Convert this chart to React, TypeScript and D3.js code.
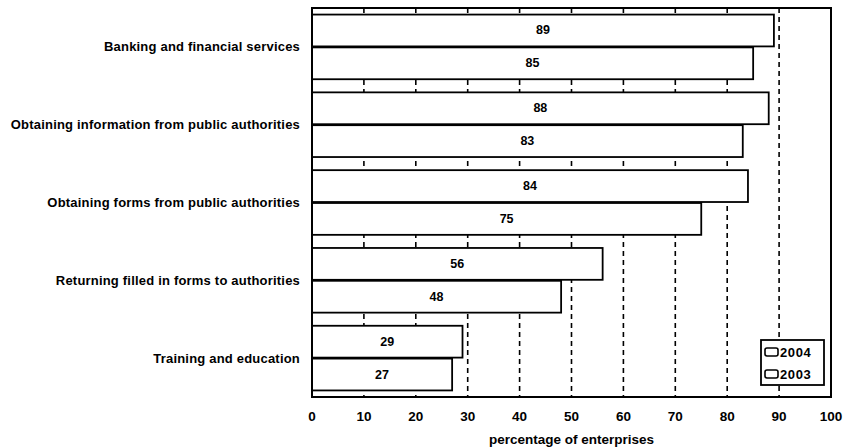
import React from "react";
import * as d3 from "d3";

const categories = [
  "Banking and financial services",
  "Obtaining information from public authorities",
  "Obtaining forms from public authorities",
  "Returning filled in forms to authorities",
  "Training and education",
];
const values2004 = [89, 88, 84, 56, 29];
const values2003 = [85, 83, 75, 48, 27];
const seriesNames = ["2004", "2003"];
const xTicks = [0, 10, 20, 30, 40, 50, 60, 70, 80, 90, 100];
const gridValues = [10, 20, 30, 40, 50, 60, 70, 80, 90];
const xTitle = "percentage of enterprises";

const W = 844;
const H = 447;
const M = { left: 312, right: 13, top: 8, bottom: 50 };

export default function App() {
  const x = d3.scaleLinear().domain([0, 100]).range([M.left, W - M.right]);
  const y = d3
    .scaleBand<string>()
    .domain(categories)
    .range([M.top, H - M.bottom])
    .paddingInner(0)
    .paddingOuter(0);
  const inner = d3
    .scaleBand<string>()
    .domain(seriesNames)
    .range([0, y.bandwidth()])
    .paddingInner(0.03)
    .paddingOuter(0.2);

  const series = [values2004, values2003];
  const font = "'Liberation Sans', Arial, sans-serif";
  const x0 = x(0);
  const yBottom = H - M.bottom;

  const legendX = 761;
  const legendY = 340;

  return (
    <svg
      width={W}
      height={H}
      style={{ position: "absolute", left: 0, top: 0, background: "#fff" }}
      fontFamily={font}
    >
      <rect x={0} y={0} width={W} height={H} fill="#fff" />
      {/* dashed gridlines behind the bars */}
      {gridValues.map((v) => (
        <line
          key={"g" + v}
          x1={x(v)}
          x2={x(v)}
          y1={M.top}
          y2={yBottom}
          stroke="#000"
          strokeWidth={1.6}
          strokeDasharray="5 4"
        />
      ))}
      {/* bars */}
      {categories.map((c, i) =>
        series.map((vals, s) => {
          const by = (y(c) as number) + (inner(seriesNames[s]) as number);
          const bh = inner.bandwidth();
          return (
            <g key={c + s}>
              <rect
                x={x0}
                y={by}
                width={x(vals[i]) - x0}
                height={bh}
                fill="#fff"
                stroke="#000"
                strokeWidth={1.8}
              />
              <text
                x={(x0 + x(vals[i])) / 2}
                y={by + bh / 2}
                textAnchor="middle"
                dominantBaseline="central"
                fontSize={12.5}
                fontWeight="bold"
              >
                {vals[i]}
              </text>
            </g>
          );
        })
      )}
      {/* plot frame */}
      <rect
        x={x0}
        y={M.top}
        width={x(100) - x0}
        height={yBottom - M.top}
        fill="none"
        stroke="#000"
        strokeWidth={2}
      />
      {/* category labels */}
      {categories.map((c) => (
        <text
          key={"l" + c}
          x={300}
          y={(y(c) as number) + y.bandwidth() / 2}
          textAnchor="end"
          dominantBaseline="central"
          fontSize={13}
          fontWeight="bold"
          letterSpacing={0.2}
        >
          {c}
        </text>
      ))}
      {/* x tick labels */}
      {xTicks.map((t) => (
        <text
          key={"t" + t}
          x={x(t)}
          y={416}
          textAnchor="middle"
          dominantBaseline="central"
          fontSize={13.5}
          fontWeight="bold"
        >
          {t}
        </text>
      ))}
      <text
        x={(x0 + x(100)) / 2}
        y={439}
        textAnchor="middle"
        dominantBaseline="central"
        fontSize={13.5}
        fontWeight="bold"
      >
        {xTitle}
      </text>
      {/* legend */}
      <g transform={`translate(${legendX},${legendY})`}>
        <rect x={0} y={0} width={63} height={45} fill="#fff" stroke="#000" strokeWidth={1.8} />
        {seriesNames.map((n, i) => (
          <g key={"lg" + n} transform={`translate(4,${12 + i * 22})`}>
            <rect x={0} y={-4} width={13} height={8} rx={2} fill="#fff" stroke="#000" strokeWidth={1.6} />
            <text
              x={15}
              y={0}
              dominantBaseline="central"
              fontSize={13}
              fontWeight="bold"
              letterSpacing={0.6}
            >
              {n}
            </text>
          </g>
        ))}
      </g>
    </svg>
  );
}
